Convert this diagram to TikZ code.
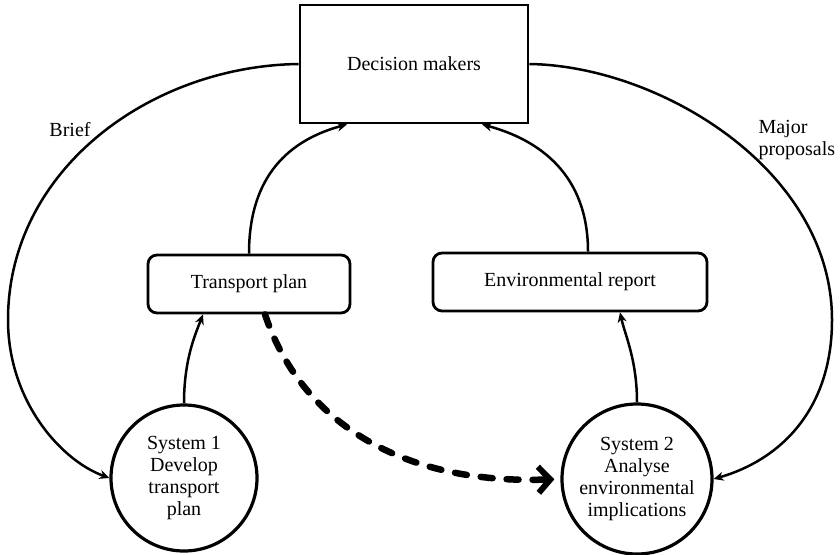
\documentclass[tikz,border=0pt]{standalone}
\usepackage{fontspec}
\setmainfont{Liberation Serif}
\usetikzlibrary{arrows.meta,calc}
\begin{document}
\begin{tikzpicture}[x=1pt,y=-1pt,
  lbl/.style={font=\fontsize{20}{22}\selectfont},
  boxsq/.style={draw,line width=2.8pt,minimum width=228pt,minimum height=118pt,inner sep=0pt,lbl},
  boxrd/.style={draw,line width=2.8pt,rounded corners=9pt,minimum height=58pt,inner sep=0pt,lbl},
  sysc/.style={draw,circle,line width=3.2pt,inner sep=0pt,align=center,lbl},
  conn/.style={line width=2.5pt,-{Stealth[length=10pt,width=9pt]}},
  dashconn/.style={line width=6.5pt,line cap=round,dash pattern=on 12pt off 14pt,
     -{Straight Barb[length=12pt,width=26pt,line width=6pt]}}
]
\useasboundingbox (0,0) rectangle (840,554);

\node[boxsq] (dm) at (414,64) {Decision makers};
\node[boxrd,minimum width=202pt] (tp) at (249,284) {Transport plan};
\node[boxrd,minimum width=274pt] (er) at (570,282) {Environmental report};
\node[sysc,minimum size=146pt] (s1) at (184,478) {System 1\\Develop\\transport\\plan};
\node[sysc,minimum size=150pt] (s2) at (637,479) {System 2\\Analyse\\environmental\\implications};

\node[lbl] (brief) at (70,130) {Brief};
\node[lbl,anchor=west,align=left] (major) at (755,140) {Major\\proposals};

% Brief loop
\coordinate (bl) at (8,320);
\draw[conn] (dm.west) .. controls (150,66) and (8,170) .. (bl)
  .. controls (8,400) and (60,460) .. (s1.180);
% Major proposals loop
\coordinate (br) at (832,320);
\draw[conn] (dm.east) .. controls (660,66) and (832,170) .. (br)
  .. controls (832,410) and (780,460) .. (s2.0);

% plans up to decision makers
\draw[conn] (tp.north) .. controls (249,175) and (290,140) .. ($(dm.south)+(-67,0)$);
\draw[conn] ($(er.north)+(18,0)$) .. controls (588,175) and (540,140) .. ($(dm.south)+(68,0)$);

% systems up to outputs
\draw[conn] (s1.north) .. controls (184,360) and (195,335) .. ($(tp.south)+(-46,0)$);
\draw[conn] (s2.north) .. controls (637,360) and (625,335) .. ($(er.south)+(50,0)$);

% dashed link
\draw[dashconn,shorten >=6pt] ($(tp.south)+(16,0)$) .. controls (300,420) and (400,485) .. (s2.180);
\end{tikzpicture}
\end{document}
